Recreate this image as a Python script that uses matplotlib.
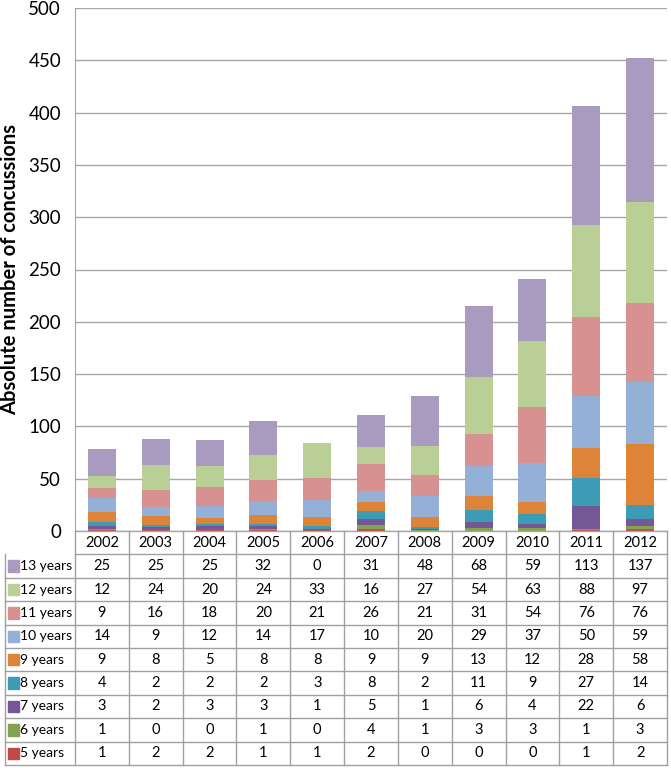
import matplotlib
matplotlib.use("Agg")
import matplotlib.pyplot as plt
import numpy as np

plt.rcParams['font.family'] = ['Lato', 'DejaVu Sans']

years = ['2002', '2003', '2004', '2005', '2006', '2007', '2008', '2009', '2010', '2011', '2012']

# bottom to top of the stack
ages = ['5 years', '6 years', '7 years', '8 years', '9 years',
        '10 years', '11 years', '12 years', '13 years']
age5 = [1, 2, 2, 1, 1, 2, 0, 0, 0, 1, 2]
age6 = [1, 0, 0, 1, 0, 4, 1, 3, 3, 1, 3]
age7 = [3, 2, 3, 3, 1, 5, 1, 6, 4, 22, 6]
age8 = [4, 2, 2, 2, 3, 8, 2, 11, 9, 27, 14]
age9 = [9, 8, 5, 8, 8, 9, 9, 13, 12, 28, 58]
age10 = [14, 9, 12, 14, 17, 10, 20, 29, 37, 50, 59]
age11 = [9, 16, 18, 20, 21, 26, 21, 31, 54, 76, 76]
age12 = [12, 24, 20, 24, 33, 16, 27, 54, 63, 88, 97]
age13 = [25, 25, 25, 32, 0, 31, 48, 68, 59, 113, 137]
series = [age5, age6, age7, age8, age9, age10, age11, age12, age13]

colors = ['#BE4B48', '#84A350', '#745895', '#3D9BB6', '#DD8439',
          '#95B0D7', '#D69190', '#B9CF96', '#A99BC0']

W, H = 671, 768
fig = plt.figure(figsize=(W / 100, H / 100), dpi=100)

# pixel layout
px_left, px_right = 75, 667
px_top, px_base, px_bottom = 8, 531, 765
tab_left = 5

ax = fig.add_axes([px_left / W, (H - px_base) / H,
                   (px_right - px_left) / W, (px_base - px_top) / H])

x = np.arange(len(years))
bottom = np.zeros(len(years))
for vals, c in zip(series, colors):
    ax.bar(x, vals, width=0.52, bottom=bottom, color=c, edgecolor='none', zorder=3)
    bottom += np.array(vals)

grid = '#A6A6A6'
ax.set_xlim(-0.5, len(years) - 0.5)
ax.set_ylim(0, 500)
ax.set_yticks(np.arange(0, 501, 50))
ax.yaxis.grid(True, color=grid, linewidth=1, zorder=0)
ax.set_xticks([])
ax.tick_params(axis='y', length=0, labelsize=13.5, pad=10)
for s in ['top', 'right', 'bottom']:
    ax.spines[s].set_visible(False)
ax.spines['left'].set_color(grid)
ax.set_ylabel('Absolute number of concussions', fontsize=14.5, fontweight='bold', labelpad=6)

# data table underneath
col_w = (px_right - px_left) / len(years)
x_left = -0.5 - (px_left - tab_left) / col_w
tab = fig.add_axes([tab_left / W, (H - px_bottom) / H,
                    (px_right - tab_left) / W, (px_bottom - px_base) / H])
nrows = len(ages) + 1
tab.set_xlim(x_left, len(years) - 0.5)
tab.set_ylim(0, nrows)
tab.axis('off')

lc = '#A0A0A0'
tab.plot([-0.5, len(years) - 0.5], [nrows, nrows], color=grid, lw=1, clip_on=False)
for r in range(nrows):
    xs = x_left if r < nrows - 1 else -0.5
    tab.plot([xs, len(years) - 0.5], [r, r], color=lc, lw=1, clip_on=False)
tab.plot([x_left, x_left], [0, nrows - 1], color=lc, lw=1, clip_on=False)
for k in range(len(years) + 1):
    tab.plot([k - 0.5, k - 0.5], [0, nrows], color=lc, lw=1, clip_on=False)

fs = 10.5
for i, y in enumerate(years):
    tab.text(i, nrows - 0.5, y, ha='center', va='center', fontsize=fs)

key_w = 11 / col_w
for j, (name, vals, c) in enumerate(zip(ages, series, colors)):
    yc = j + 0.5
    tab.add_patch(plt.Rectangle((x_left + 3 / col_w, yc - 0.24), key_w, 0.48,
                                color=c, clip_on=False))
    tab.text(x_left + 15.5 / col_w, yc, name, ha='left', va='center', fontsize=10)
    for i, v in enumerate(vals):
        tab.text(i, yc, str(v), ha='center', va='center', fontsize=fs)

fig.savefig('out.png', dpi=100)
